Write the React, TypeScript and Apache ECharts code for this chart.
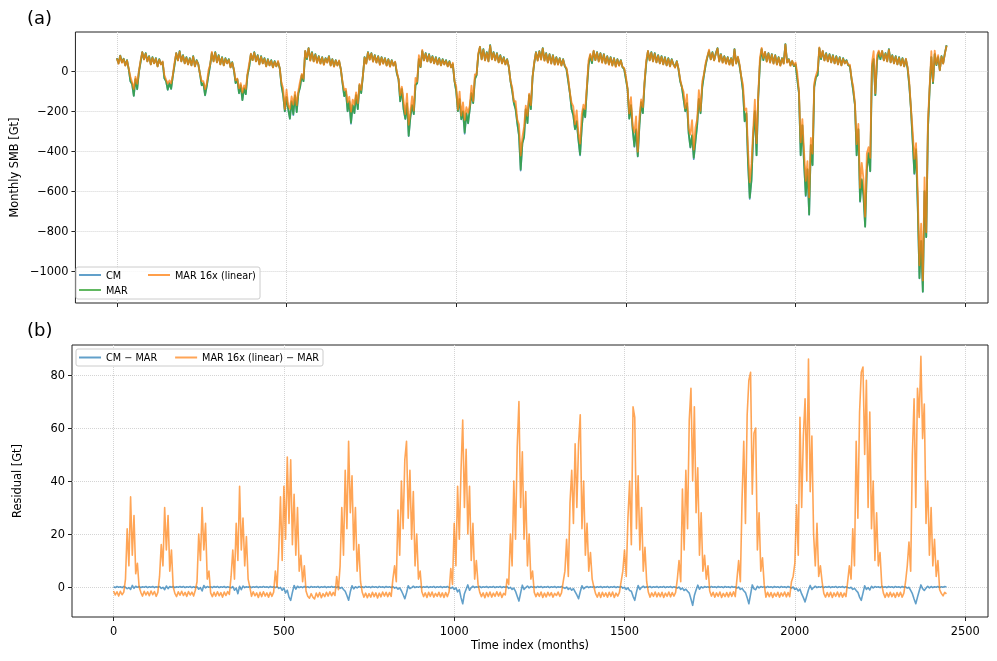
import React, { useEffect, useRef } from "react";
import * as echarts from "echarts";

// one sample every STEP months, starting at month 0
const STEP = 5;

// Panel (a): MAR monthly SMB [Gt]
const marSMB = [
  65, 40, 78, 45, 62, 30, 55, 10, -50, -65,
  -123, -40, -90, -5, 45, 95, 60, 90, 50, 75,
  35, 70, 40, 65, 25, 60, 35, 45, -35, -50,
  -92, -60, -88, -25, 30, 90, 55, 100, 50, 80,
  40, 70, 35, 65, 30, 75, 25, 55, 35, -15,
  -70, -60, -120, -75, -20, 30, 90, 50, 95, 45,
  80, 35, 70, 30, 65, 40, 60, 20, 45, 5,
  -60, -40, -110, -70, -145, -85, -115, -20, 20, 85,
  55, 95, 50, 80, 35, 75, 40, 65, 25, 60,
  30, 55, 20, 50, 25, 45, 15, -70, -120, -200,
  -130, -190, -237, -150, -215, -120, -205, -110, -80, -20,
  -50, 100, 60, 115, 55, 95, 50, 85, 45, 75,
  40, 70, 35, 65, 45, 75, 30, 60, 25, 55,
  30, 50, 10, -60, -125, -100, -200, -150, -258, -170,
  -210, -120, -190, -70, -110, -25, 70, 40, 95, 60,
  90, 50, 80, 45, 75, 35, 70, 40, 65, 30,
  60, 25, 55, 30, 45, -10, -40, -150, -90, -190,
  -237, -160, -323, -230, -170, -215, -70, -60, 60, 20,
  100, 55, 90, 50, 85, 45, 75, 40, 70, 35,
  65, 30, 60, 35, 55, 25, 50, 20, 35, -50,
  -100, -200, -140, -240, -200, -307, -210, -260, -190, -110,
  -160, -40, -20, 80, 121, 60, 110, 55, 95, 50,
  130, 60, 95, 55, 90, 45, 80, 40, 70, 35,
  60, 20, -50, -100, -160, -190, -260, -320, -492, -360,
  -330, -190, -260, -120, -190, -30, 40, 95, 55, 100,
  60, 115, 55, 90, 45, 85, 40, 80, 35, 70,
  35, 65, 30, 60, 25, 10, -50, -110, -190, -220,
  -290, -250, -340, -417, -280, -190, -230, -90, 30, 80,
  40, 100, 55, 95, 50, 90, 45, 85, 40, 75,
  35, 70, 30, 65, 25, 60, 30, 55, 20, 10,
  -40, -90, -237, -170, -290, -375, -290, -425, -270, -155,
  -210, -60, 40, 100, 55, 95, 50, 90, 45, 80,
  40, 75, 35, 70, 30, 65, 25, 60, 35, 20,
  50, 10, -50, -80, -140, -200, -160, -310, -380, -320,
  -433, -350, -270, -140, -210, -80, -20, 30, 70, 100,
  60, 95, 55, 90, 115, 50, 85, 45, 75, 40,
  70, 35, 65, 30, 110, 40, 70, 25, -30, -100,
  -250, -210, -460, -633, -545, -330, -200, -420, -130, 40,
  110, 55, 95, 50, 90, 45, 85, 40, 80, 35,
  70, 30, 65, 40, 135, 45, 60, 30, 50, 25,
  35, -40, -110, -420, -270, -460, -620, -490, -717, -370,
  -470, -80, -30, -20, 115, 60, 100, 55, 90, 50,
  85, 45, 80, 40, 75, 35, 70, 30, 65, 40,
  55, 30, 25, -40, -100, -170, -420, -290, -650, -540,
  -620, -778, -490, -410, -500, 20, 60, -120, 50, 95,
  60, 100, 55, 90, 50, 110, 45, 80, 40, 75,
  35, 70, 30, 65, 25, 60, 15, -70, -190, -350,
  -510, -390, -680, -1035, -850, -1103, -600, -830, -290, -90,
  70, -60, 85, 30, 70, 5, 75, 40, 90, 130,
];

// Panel (b): CM − MAR [Gt]
const cmMinusMar = [
  0.1, -0.2, 0.2, -0.1, 0.1, -0.2, 0.2, -0.1, -0.6, -0.2,
  -0.9, 0.6, -0.5, 0.3, -0.1, 0.2, -0.2, 0.1, -0.1, 0.2,
  -0.2, 0.1, -0.1, 0.2, -0.2, 0.1, -0.1, 0.2, -0.5, -0.1,
  -1.0, 0.4, -0.6, 0.2, -0.1, 0.2, -0.2, 0.1, -0.1, 0.2,
  -0.1, 0.2, -0.2, 0.1, -0.1, 0.2, -0.2, 0.1, -0.2, 0.1,
  -0.8, -0.2, -1.5, 0.6, -0.3, 0.2, -0.1, 0.1, -0.2, 0.2,
  -0.1, 0.2, -0.2, 0.1, -0.1, 0.2, -0.2, 0.1, -0.1, -0.3,
  0.2, -1.2, -0.4, -2.5, 0.3, -1.0, 0.4, -0.2, 0.1, -0.1,
  0.2, -0.2, 0.1, -0.1, 0.2, -0.2, 0.1, -0.1, 0.2, -0.1,
  0.1, -0.2, 0.2, -0.1, 0.1, -0.2, 0.2, -0.5, -0.1, -1.2,
  -0.4, -2.2, -1.2, -3.8, -5.0, -2.0, 0.6, -0.8, 0.3, -0.2,
  0.1, -0.2, 0.2, -0.1, 0.1, -0.2, 0.2, -0.1, 0.1, -0.1,
  0.2, -0.2, 0.1, -0.1, 0.2, -0.2, 0.1, -0.1, 0.2, -0.1,
  0.1, -0.2, 0.2, -0.5, -0.1, -0.9, -1.6, -3.2, -5.0, -1.8,
  0.5, -0.7, 0.1, -0.3, 0.2, -0.1, 0.1, -0.2, 0.2, -0.1,
  0.1, -0.2, 0.2, -0.1, 0.1, -0.2, 0.2, -0.1, 0.1, -0.2,
  0.2, -0.1, 0.1, -0.2, 0.2, -0.4, -0.1, -0.8, -0.3, -1.4,
  -2.8, -4.4, -2.2, 0.5, -0.6, -0.2, 0.3, -0.2, 0.1, -0.1,
  0.2, -0.2, 0.1, -0.1, 0.2, -0.2, 0.1, -0.1, 0.2, -0.2,
  0.1, -0.1, 0.2, -0.2, 0.1, -0.1, 0.2, -0.2, -0.5, 0,
  -0.9, -0.3, -1.8, -1.0, -4.0, -6.3, -2.5, -0.8, 0.8, -1.2,
  -0.2, 0.3, -0.2, 0.1, -0.1, 0.2, -0.2, 0.1, -0.1, 0.2,
  -0.2, 0.1, -0.1, 0.2, -0.2, 0.1, -0.1, 0.2, -0.2, 0.1,
  -0.1, 0.2, -0.5, -0.1, -0.9, -0.4, -1.6, -3.5, -5.3, -2.2,
  0.7, -0.9, -0.2, 0.4, -0.3, 0.2, -0.1, 0.1, -0.2, 0.2,
  -0.1, 0.2, -0.2, 0.1, -0.1, 0.2, -0.2, 0.1, -0.1, 0.2,
  -0.2, 0.1, -0.1, 0.2, -0.2, -0.5, 0, -0.9, -0.4, -1.2,
  -0.6, -1.8, -3.0, -4.4, -1.8, 0.5, -0.7, -0.1, 0.2, -0.2,
  0.1, -0.1, 0.2, -0.2, 0.1, -0.1, 0.2, -0.2, 0.1, -0.1,
  0.2, -0.2, 0.1, -0.1, 0.2, -0.2, 0.1, -0.1, 0.2, -0.4,
  -0.1, -0.9, -0.3, -1.3, -1.6, -3.5, -5.0, -1.9, 0.6, -0.9,
  -0.1, 0.3, -0.2, 0.1, -0.1, 0.2, -0.2, 0.1, -0.1, 0.2,
  -0.2, 0.1, -0.1, 0.2, -0.2, 0.1, -0.1, 0.2, -0.2, 0.1,
  -0.1, -0.4, 0, -0.9, -0.4, -1.3, -0.8, -1.6, -2.3, -4.5,
  -6.9, -3.2, -1.1, 0.7, -0.8, 0.1, -0.3, 0.2, -0.1, 0.1,
  -0.2, 0.2, -0.1, 0.1, -0.2, 0.2, -0.1, 0.1, -0.2, 0.2,
  -0.1, 0.1, -0.2, 0.2, -0.1, 0.1, -0.4, 0, -0.9, -0.5,
  -1.4, -2.1, -4.0, -6.3, -2.8, 0.8, -0.7, -1.0, 0.3, -0.3,
  0.2, -0.1, 0.1, -0.2, 0.2, -0.1, 0.1, -0.2, 0.2, -0.1,
  0.1, -0.2, 0.2, -0.1, 0.1, -0.2, 0.2, -0.1, -0.4, 0,
  -0.9, -0.5, -1.5, -0.8, -2.6, -4.0, -5.6, -3.3, -1.0, 0.6,
  -0.9, -0.2, 0.3, -0.2, 0.1, -0.1, 0.2, -0.2, 0.1, -0.1,
  0.2, -0.2, 0.1, -0.1, 0.2, -0.2, 0.1, -0.1, 0.2, -0.2,
  0.1, -0.2, -0.4, -0.1, -0.9, -0.5, -1.3, -2.0, -3.8, -5.0,
  -2.3, 0.5, -0.9, -0.2, -1.1, 0.3, -0.3, 0.2, -0.1, 0.1,
  -0.2, 0.2, -0.1, 0.1, -0.2, 0.2, -0.1, 0.1, -0.2, 0.2,
  -0.1, 0.1, -0.2, 0.2, -0.1, 0.1, -0.4, -0.1, -1.3, -2.5,
  -4.5, -6.3, -3.8, -1.5, 0.8, -0.6, -1.3, -0.4, 0.3, -0.3,
  0.2, -0.2, 0.1, -0.1, 0.2, -0.2, 0.1, -0.1, 0.2, 0,
];

// Panel (b): MAR 16x (linear) − MAR [Gt]
const mar16MinusMar = [
  -1.5, -3.0, -1.8, -3.4, -1.6, -2.9, -1.9, 3, 22, 8,
  34, 12, 27, 5, 9, 0, -2.0, -3.4, -1.6, -3.0,
  -1.8, -3.3, -1.5, -2.9, -1.7, -3.5, -2.0, 4, 16, 8,
  30, 14, 27, 6, 14, 0, -2.4, -3.6, -1.8, -3.1,
  -1.6, -3.2, -2.0, -3.5, -1.7, -3.0, -1.9, -3.4, -1.2, 2,
  20, 10, 30, 14, 24, 3, 6, -2.2, -3.6, -2.0,
  -3.4, -1.8, -3.3, -2.1, -3.8, -1.9, -3.2, -1.7, -2.8, 4,
  14, 3, 24, 10, 38, 14, 26, 8, 19, 3,
  0, -3.5, -1.8, -3.3, -2.2, -3.9, -2.0, -3.6, -1.8, -3.4,
  -2.2, -3.8, -2.0, -3.5, -1.9, 6, 0, 14, 34, 10,
  38, 18, 49, 24, 48, 16, 35, 12, 30, 6,
  12, 2, 8, -1.5, -3.5, -4.2, -2.5, -3.8, -4.5, -2.3,
  -3.7, -2.1, -4.0, -2.5, -3.6, -2.0, -3.4, -1.8, -3.3, -2.0,
  -3.2, 4, -1, 8, 30, 12, 44, 22, 55, 28,
  42, 14, 30, 6, 16, 2, -2.0, -3.8, -2.3, -4.0,
  -2.5, -3.8, -2.0, -3.6, -2.2, -4.1, -2.3, -3.7, -1.9, -3.4,
  -2.0, -3.6, -2.1, -3.5, 3, 8, 2, 29, 12, 40,
  22, 48, 55, 26, 44, 18, 36, 8, 20, 3,
  6, -1.8, -3.6, -2.2, -3.9, -2.0, -3.5, -1.9, -3.8, -2.4,
  -3.5, -2.0, -3.7, -2.2, -3.9, -2.1, -3.6, -1.8, 7, 1,
  24, 8, 38, 18, 44, 63, 30, 52, 20, 38,
  10, 24, 3, 10, 1, -2.0, -3.6, -2.2, -4.0, -2.1,
  -3.6, -1.9, -3.8, -2.3, -3.5, -1.8, -3.4, -2.0, -3.9, -2.4,
  -3.0, 3, 1, 20, 8, 40, 18, 53, 70, 30,
  51, 18, 36, 8, 20, 3, 6, -2.0, -3.6, -2.2,
  -3.5, -1.9, -3.9, -2.3, -3.7, -2.0, -3.3, -2.1, -3.8, -2.4,
  -3.2, -1.9, -3.5, -2.2, 2, 6, 18, 4, 32, 44,
  24, 54, 30, 54, 65, 22, 40, 12, 24, 6,
  13, 3, 0, -2.5, -3.8, -2.1, -3.9, -2.0, -3.5, -2.2,
  -3.8, -2.0, -3.5, -1.9, -3.9, -2.3, -3.4, -2.0, 2, 6,
  14, 4, 26, 40, 16, 68, 64, 22, 42, 14,
  30, 6, 15, 2, -2.0, -3.8, -2.2, -3.5, -1.9, -3.7,
  -2.2, -3.6, -2.0, -3.9, -2.3, -3.5, -1.9, -3.7, -2.1, -3.4,
  -2.0, 3, 10, 2, 37, 14, 44, 22, 63, 75,
  40, 68, 28, 45, 12, 28, 6, 12, 3, 8,
  -1.5, -3.4, -2.0, -3.8, -2.2, -3.5, -1.9, -3.9, -2.4, -3.6,
  -2.1, -3.7, -2.0, -3.5, -1.8, -3.6, 3, 10, 2, 33,
  55, 24, 65, 78, 81, 35, 58, 60, 14, 28,
  6, 11, 1, -3.8, -2.0, -3.6, -2.1, -3.9, -2.3, -3.5,
  -2.0, -3.8, -2.2, -3.4, -1.9, -3.7, -2.1, -3.6, 2, 4,
  9, 31, 12, 64, 30, 57, 71, 40, 86, 36,
  57, 20, 8, 24, 4, 8, 2, -2.4, -3.8, -2.1,
  -3.6, -2.0, -3.9, -2.2, -3.5, -1.9, -3.7, -2.1, -3.8, -2.3,
  -3.6, 2, 8, 3, 22, 8, 55, 26, 66, 81,
  83, 50, 78, 30, 66, 22, 40, 10, 28, 8,
  13, 1, -2.3, -3.9, -2.2, -3.7, -2.0, -3.6, -2.3, -3.9,
  -2.1, -3.5, -2.0, -3.8, -2.3, 2, 8, 17, 6, 50,
  71, 30, 75, 64, 87, 56, 69, 24, 40, 12,
  30, 8, 18, 4, 10, -1, -2.4, -3.3, -2.0, -2.6,
];

const xTicks = [0, 500, 1000, 1500, 2000, 2500];
const yTicksA = [-1000, -800, -600, -400, -200, 0];
const yTicksB = [0, 20, 40, 60, 80];

const FONT = "DejaVu Sans";
const BLUE = "rgba(31,119,180,0.7)";
const GREEN = "rgba(44,160,44,0.75)";
const ORANGE = "rgba(255,127,14,0.7)";
const ORANGE_A = "rgba(255,127,14,0.75)";
const MINUS = "\u2212";

const fmt = (v: number) => (v < 0 ? MINUS + Math.abs(v) : String(v));

export default function App() {
  const ref = useRef<HTMLDivElement>(null);
  useEffect(() => {
    const chart = echarts.init(ref.current!, null, { renderer: "svg" });
    const n = Math.min(marSMB.length, cmMinusMar.length, mar16MinusMar.length);
    const months = Array.from({ length: n }, (_, i) => i * STEP);
    const pairs = (vals: number[]) => months.map((m, i) => [m, Math.round(vals[i] * 100) / 100]);
    const cm = months.map((_, i) => marSMB[i] + cmMinusMar[i]);
    const mar16 = months.map((_, i) => marSMB[i] + mar16MinusMar[i]);

    const gridStyle = { show: true, borderColor: "#222", borderWidth: 1, backgroundColor: "#fff" };
    const split = { show: true, lineStyle: { type: "dotted" as const, color: "#d4d4d4", width: 1 } };
    const tick = { show: true, length: 4, lineStyle: { color: "#222" } };
    const lbl = { color: "#000", fontSize: 11.4, fontFamily: FONT };
    const noLine = { show: false, onZero: false };

    const xBase = {
      type: "value" as const,
      min: -122,
      max: 2567,
      splitNumber: 5,
      axisLine: noLine,
      splitLine: split,
    };
    const line = (name: string, data: number[][], color: string, xi: number, width: number) => ({
      type: "line" as const,
      name,
      data,
      xAxisIndex: xi,
      yAxisIndex: xi,
      color,
      showSymbol: false,
      symbol: "none",
      lineStyle: { width, color, join: "round" as const },
      itemStyle: { color },
      z: 2,
    });

    const legendText = { fontSize: 9.7, fontFamily: FONT, color: "#000", lineHeight: 12 };

    chart.setOption({
      animation: false,
      textStyle: { fontFamily: FONT },
      grid: [
        { left: 72, top: 32, width: 916, height: 271, ...gridStyle },
        { left: 72, top: 345, width: 916, height: 272, ...gridStyle },
      ],
      xAxis: [
        {
          ...xBase,
          gridIndex: 0,
          axisTick: { ...tick, customValues: xTicks },
          axisLabel: { show: false },
        },
        {
          ...xBase,
          gridIndex: 1,
          axisTick: { ...tick, customValues: xTicks },
          axisLabel: { ...lbl, margin: 8, customValues: xTicks, formatter: fmt },
          name: "Time index (months)",
          nameLocation: "middle",
          nameGap: 22,
          nameTextStyle: { fontSize: 11.4, color: "#000", fontFamily: FONT },
        },
      ],
      yAxis: [
        {
          type: "value",
          gridIndex: 0,
          min: -1160,
          max: 196,
          splitNumber: 7,
          axisLine: noLine,
          splitLine: split,
          axisTick: { ...tick, customValues: yTicksA },
          axisLabel: { ...lbl, margin: 7, customValues: yTicksA, formatter: fmt },
          name: "Monthly SMB [Gt]",
          nameLocation: "middle",
          nameGap: 50,
          nameTextStyle: { fontSize: 11.4, color: "#000", fontFamily: FONT },
        },
        {
          type: "value",
          gridIndex: 1,
          min: -11.3,
          max: 91.3,
          splitNumber: 5,
          axisLine: noLine,
          splitLine: split,
          axisTick: { ...tick, customValues: yTicksB },
          axisLabel: { ...lbl, margin: 7, customValues: yTicksB, formatter: fmt },
          name: "Residual [Gt]",
          nameLocation: "middle",
          nameGap: 50,
          nameTextStyle: { fontSize: 11.4, color: "#000", fontFamily: FONT },
        },
      ],
      legend: [
        {
          data: ["CM", "MAR"],
          orient: "vertical",
          left: 79,
          top: 269,
          padding: 0,
          itemGap: 3,
          itemWidth: 22,
          itemHeight: 2,
          icon: "rect",
          textStyle: legendText,
          z: 6,
        },
        {
          data: ["MAR 16x (linear)"],
          orient: "vertical",
          left: 148,
          top: 269,
          padding: 0,
          itemWidth: 22,
          itemHeight: 2,
          icon: "rect",
          textStyle: legendText,
          z: 6,
        },
        {
          data: ["CM " + MINUS + " MAR", "MAR 16x (linear) " + MINUS + " MAR"],
          orient: "horizontal",
          left: 76,
          top: 349,
          padding: [2.5, 4, 2.5, 3],
          itemGap: 18,
          itemWidth: 22,
          itemHeight: 2,
          icon: "rect",
          backgroundColor: "rgba(255,255,255,0.8)",
          borderColor: "#cccccc",
          borderWidth: 1,
          borderRadius: 2,
          textStyle: legendText,
          z: 6,
        },
      ],
      graphic: [
        {
          type: "rect",
          shape: { x: 76, y: 267, width: 184, height: 32, r: 2 },
          style: { fill: "rgba(255,255,255,0.8)", stroke: "#cccccc", lineWidth: 1 },
          z: 5,
        },
        {
          type: "text",
          left: 27,
          top: 8,
          style: { text: "(a)", fontSize: 18, fontFamily: FONT, fill: "#000" },
        },
        {
          type: "text",
          left: 27,
          top: 320,
          style: { text: "(b)", fontSize: 18, fontFamily: FONT, fill: "#000" },
        },
      ],
      series: [
        line("CM", pairs(cm), BLUE, 0, 1.8),
        line("MAR", pairs(marSMB), GREEN, 0, 1.8),
        line("MAR 16x (linear)", pairs(mar16), ORANGE_A, 0, 1.8),
        line("CM " + MINUS + " MAR", pairs(cmMinusMar), BLUE, 1, 1.6),
        line("MAR 16x (linear) " + MINUS + " MAR", pairs(mar16MinusMar), ORANGE, 1, 1.6),
      ],
    });
    return () => chart.dispose();
  }, []);
  return <div ref={ref} style={{ position: "fixed", left: 0, top: 0, width: 997, height: 661 }} />;
}
